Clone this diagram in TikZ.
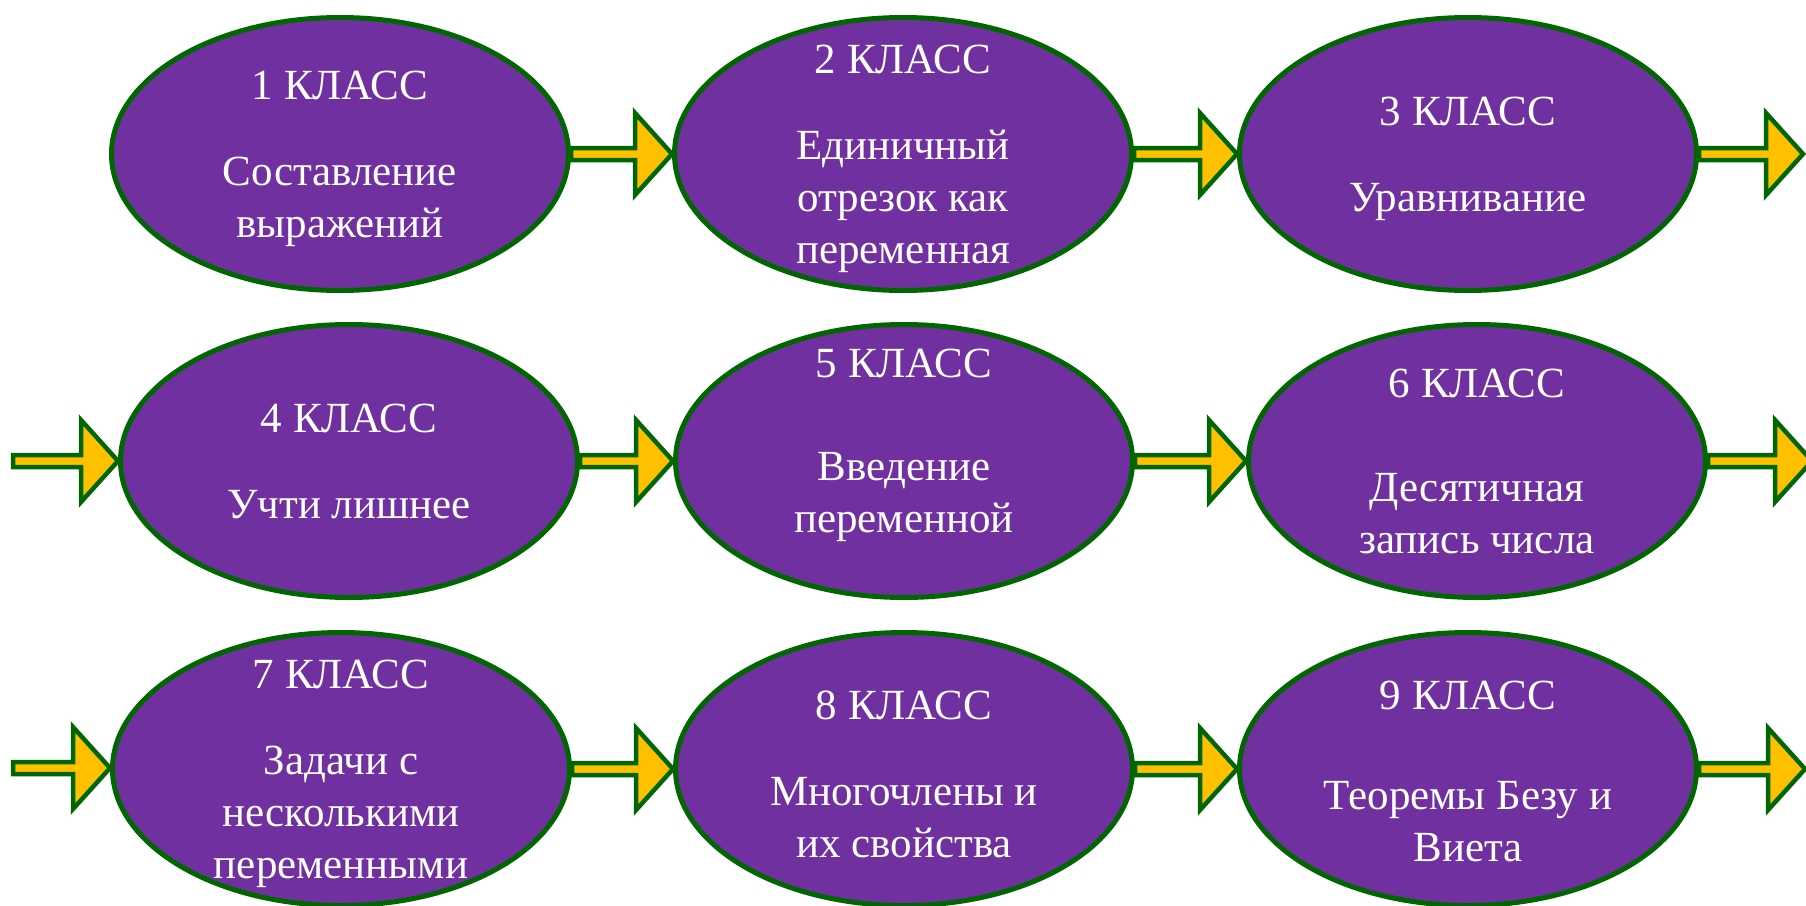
\documentclass[tikz,border=0pt]{standalone}
\usepackage{fontspec}
\setmainfont{Liberation Serif}
\usepackage{xcolor}
\usepackage{tikz}
\usetikzlibrary{shapes,calc}
\definecolor{ovalpurple}{RGB}{112,48,160}
\definecolor{ovalgreen}{RGB}{0,102,0}
\definecolor{arrowyellow}{RGB}{255,192,0}
\newcommand{\gradearrow}[2]{%
  \draw[gradearrow] let \p1=(#1), \p2=(#2) in
    (\x1,\y1+6pt) -- (\x2-37pt,\y1+6pt) -- (\x2-37pt,\y1+41pt) -- (\x2,\y1)
    -- (\x2-37pt,\y1-41pt) -- (\x2-37pt,\y1-6pt) -- (\x1,\y1-6pt) -- cycle;}

\begin{document}
\begin{tikzpicture}[x=1pt,y=-1pt,
    gradeoval/.style={ellipse, draw=ovalgreen, fill=ovalpurple, line width=5pt,
      minimum width=457pt, minimum height=273pt, inner sep=0pt},
    gradetext/.style={text=white, align=center, yshift=-5pt,
      font=\fontsize{43}{52}\selectfont},
    gradearrow/.style={draw=ovalgreen, fill=arrowyellow, line width=4.5pt, line join=miter}]
    \useasboundingbox (0,0) rectangle (1806,905);
    % row 1
    \node[gradeoval] (e1) at (340,154) {};
    \node[gradetext] (t1) at (e1) {1 КЛАСС\\[34pt]Составление\\выражений};
    \node[gradeoval] (e2) at (903,154) {};
    \node[gradetext] (t2) at (e2) {2 КЛАСС\\[34pt]Единичный\\отрезок как\\переменная};
    \node[gradeoval] (e3) at (1468,154) {};
    \node[gradetext] (t3) at (e3) {3 КЛАСС\\[34pt]Уравнивание};
    % row 2
    \node[gradeoval] (e4) at (349,461) {};
    \node[gradetext, yshift=5pt] (t4) at (e4) {4 КЛАСС\\[34pt]Учти лишнее};
    \node[gradeoval] (e5) at (904,461) {};
    \node[gradetext, yshift=21pt] (t5) at (e5) {5 КЛАСС\\[51pt]Введение\\переменной};
    \node[gradeoval] (e6) at (1477,461) {};
    \node[gradetext, yshift=5pt] (t6) at (e6) {6 КЛАСС\\[52pt]Десятичная\\запись числа};
    % row 3
    \node[gradeoval] (e7) at (341,769) {};
    \node[gradetext] (t7) at (e7) {7 КЛАСС\\[34pt]Задачи с\\несколькими\\переменными};
    \node[gradeoval] (e8) at (904,769) {};
    \node[gradetext] (t8) at (e8) {8 КЛАСС\\[34pt]Многочлены и\\их свойства};
    \node[gradeoval] (e9) at (1468,769) {};
    \node[gradetext, yshift=3pt] (t9) at (e9) {9 КЛАСС\\[48pt]Теоремы Безу и\\Виета};
    % free ends
    \coordinate (out3) at (1803,154);
    \coordinate (in4) at (13,461);
    \coordinate (out6) at (1812,461);
    \coordinate (in7) at (13,768);
    \coordinate (out9) at (1805,769);
    % arrows
    \gradearrow{e1.east}{e2.west}
    \gradearrow{e2.east}{e3.west}
    \gradearrow{e3.east}{out3}
    \gradearrow{in4}{e4.west}
    \gradearrow{e4.east}{e5.west}
    \gradearrow{e5.east}{e6.west}
    \gradearrow{e6.east}{out6}
    \gradearrow{in7}{e7.west}
    \gradearrow{e7.east}{e8.west}
    \gradearrow{e8.east}{e9.west}
    \gradearrow{e9.east}{out9}
\end{tikzpicture}
\end{document}
